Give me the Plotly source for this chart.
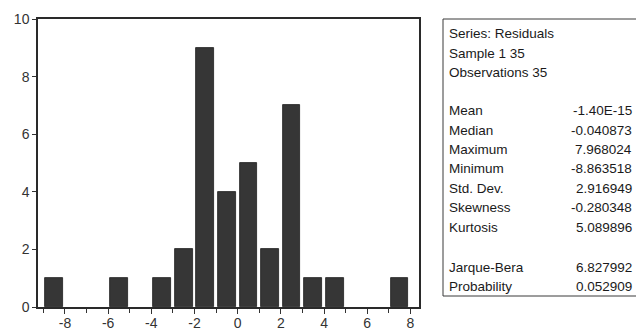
import plotly.graph_objects as go

# Histogram of residuals: bin lower edges (bin width 1) and counts
bin_left = [-9, -6, -4, -3, -2, -1, 0, 1, 2, 3, 4, 7]
counts = [1, 1, 1, 2, 9, 4, 5, 2, 7, 1, 1, 1]

header_lines = ["Series: Residuals", "Sample 1 35", "Observations 35"]
stat_names = ["Mean", "Median", "Maximum", "Minimum", "Std. Dev.", "Skewness", "Kurtosis"]
stat_values = ["-1.40E-15", "-0.040873", "7.968024", "-8.863518", "2.916949", "-0.280348", "5.089896"]
test_names = ["Jarque-Bera", "Probability"]
test_values = ["6.827992", "0.052909"]

W, H = 636, 331
L, R, T, B = 38, 419, 19, 307  # plot area in pixels

centers = [b + 0.5 for b in bin_left]

fig = go.Figure(go.Bar(
    x=centers, y=counts, width=0.82,
    marker=dict(color="#363636", line=dict(color="#1e1e1e", width=0.8)),
    hoverinfo="skip",
))

def px_x(p):
    return (p - L) / (R - L)

def px_y(p):
    return (B - p) / (B - T)

font_box = dict(family="Liberation Sans, Arial, sans-serif", size=13.5, color="#1a1a1a")
ann = []
label_x = px_x(447)
value_x = px_x(634)
ys_header = [33, 53, 72]
for t, yy in zip(header_lines, ys_header):
    ann.append(dict(text=t, x=label_x, y=px_y(yy), xref="paper", yref="paper",
                    xanchor="left", yanchor="middle", showarrow=False, font=font_box))
ys_stats = [110, 130, 149, 168, 188, 207, 227]
for n, v, yy in zip(stat_names, stat_values, ys_stats):
    ann.append(dict(text=n, x=label_x, y=px_y(yy), xref="paper", yref="paper",
                    xanchor="left", yanchor="middle", showarrow=False, font=font_box))
    ann.append(dict(text=v, x=value_x, y=px_y(yy), xref="paper", yref="paper",
                    xanchor="right", yanchor="middle", showarrow=False, font=font_box))
ys_tests = [267, 286]
for n, v, yy in zip(test_names, test_values, ys_tests):
    ann.append(dict(text=n, x=label_x, y=px_y(yy), xref="paper", yref="paper",
                    xanchor="left", yanchor="middle", showarrow=False, font=font_box))
    ann.append(dict(text=v, x=value_x, y=px_y(yy), xref="paper", yref="paper",
                    xanchor="right", yanchor="middle", showarrow=False, font=font_box))

box_col = "#3a3a3a"
shapes = [
    dict(type="line", xref="paper", yref="paper", x0=px_x(443), x1=px_x(660), y0=px_y(19), y1=px_y(19),
         line=dict(color=box_col, width=1)),
    dict(type="line", xref="paper", yref="paper", x0=px_x(443), x1=px_x(660), y0=px_y(296), y1=px_y(296),
         line=dict(color=box_col, width=1)),
    dict(type="line", xref="paper", yref="paper", x0=px_x(443), x1=px_x(443), y0=px_y(19), y1=px_y(296),
         line=dict(color=box_col, width=1)),
]

tick_font = dict(family="Liberation Sans, Arial, sans-serif", size=14, color="#333333")

fig.update_layout(
    width=W, height=H,
    margin=dict(l=L, r=W - R, t=T, b=H - B, pad=0, autoexpand=False),
    paper_bgcolor="white", plot_bgcolor="white",
    showlegend=False,
    annotations=ann, shapes=shapes,
    bargap=0,
    xaxis=dict(
        range=[-9.25, 8.4], tickmode="array",
        tickvals=[-8, -6, -4, -2, 0, 2, 4, 6, 8],
        ticktext=["-8", "-6", "-4", "-2", "0", "2", "4", "6", "8"],
        ticks="outside", ticklen=5, tickcolor="#333", tickwidth=1,
        ticklabelstandoff=-3,
        minor=dict(tickmode="array", tickvals=[-9, -7, -5, -3, -1, 1, 3, 5, 7],
                   ticks="outside", ticklen=4, tickcolor="#333"),
        showgrid=False, zeroline=False, automargin=False,
        showline=True, linecolor="#2a2a2a", linewidth=1.5, mirror=True,
        tickfont=tick_font, fixedrange=True,
    ),
    yaxis=dict(
        range=[0, 10], tickvals=[0, 2, 4, 6, 8, 10],
        ticks="outside", ticklen=4, tickcolor="#333", tickwidth=1,
        showgrid=False, zeroline=False, automargin=False,
        showline=True, linecolor="#2a2a2a", linewidth=1.5, mirror=True,
        tickfont=tick_font, fixedrange=True,
    ),
)

fig.write_html("out.html", config={"displayModeBar": False},
               post_script="document.body.style.margin='0';document.body.style.overflow='hidden';")
